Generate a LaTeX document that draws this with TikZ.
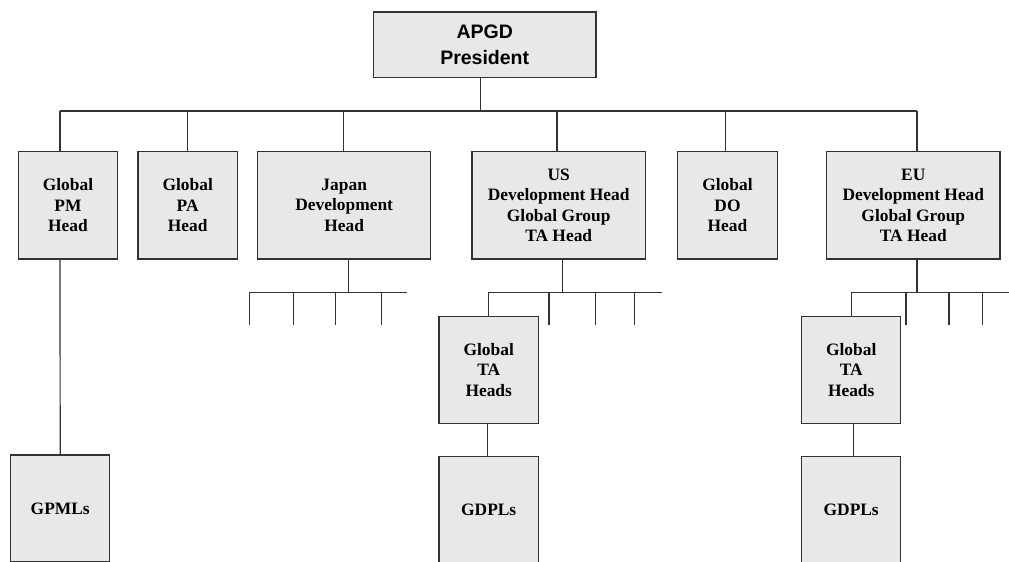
\documentclass[tikz,border=0pt]{standalone}
\usepackage{fontspec}
\setmainfont{Liberation Serif}
\newfontfamily\boxsans{Liberation Sans}
\definecolor{linegray}{HTML}{333333}
\definecolor{boxfill}{HTML}{E8E8E8}
\begin{document}
\begin{tikzpicture}[x=1bp,y=-1bp,
  conn/.style={draw=linegray,line width=1.2bp},
  orgbox/.style={rectangle,draw=linegray,fill=boxfill,line width=1.2bp,inner sep=0pt,align=center,
    font=\bfseries\fontsize{17.4bp}{20.5bp}\selectfont},
  topbox/.style={orgbox,font=\boxsans\bfseries\fontsize{19.5bp}{26bp}\selectfont}]
\clip (0,0) rectangle (1009,562);
\fill[white] (0,0) rectangle (1009,562);

% boxes
\node[topbox,minimum width=222.7bp,minimum height=65.7bp] (top) at (484.7,44.8) {APGD\\President};
\node[orgbox,minimum width=99.4bp,minimum height=107.3bp] (pm) at (68,205.3) {Global\\PM\\Head};
\node[orgbox,minimum width=99.3bp,minimum height=107.3bp] (pa) at (187.7,205.3) {Global\\PA\\Head};
\node[orgbox,minimum width=173bp,minimum height=107.3bp] (jp) at (344.2,205.3) {Japan\\Development\\Head};
\node[orgbox,minimum width=173.3bp,minimum height=107.3bp] (us) at (558.7,205.3) {US\\Development Head\\Global Group\\TA Head};
\node[orgbox,minimum width=99.6bp,minimum height=107.3bp] (do) at (727.5,205.3) {Global\\DO\\Head};
\node[orgbox,minimum width=173.3bp,minimum height=107.3bp] (eu) at (913.3,205.3) {EU\\Development Head\\Global Group\\TA Head};
\node[orgbox,minimum width=99.3bp,minimum height=106.6bp] (usta) at (488.7,370) {Global\\TA\\Heads};
\node[orgbox,minimum width=99bp,minimum height=106.6bp] (euta) at (851.2,370) {Global\\TA\\Heads};
\node[orgbox,minimum width=99.3bp,minimum height=106.6bp] (usgd) at (488.7,510) {GDPLs};
\node[orgbox,minimum width=99bp,minimum height=106.6bp] (eugd) at (851.2,510) {GDPLs};
\node[orgbox,minimum width=99bp,minimum height=107bp] (gpml) at (60.2,508.5) {GPMLs};

% top bus
\coordinate (busL) at (60,111);
\coordinate (busR) at (917,111);
\draw[conn] ([xshift=-4bp]top.south) |- (busL);
\draw[conn] ([xshift=-4bp]top.south) |- (busR);
\draw[conn] ([xshift=-8bp]pm.north) -- ([xshift=-8bp]pm.north |- busL);
\draw[conn] (pa.north) -- (pa.north |- busL);
\draw[conn] ([xshift=-1bp]jp.north) -- ([xshift=-1bp]jp.north |- busL);
\draw[conn] ([xshift=-1.7bp]us.north) -- ([xshift=-1.7bp]us.north |- busL);
\draw[conn] ([xshift=-1.8bp]do.north) -- ([xshift=-1.8bp]do.north |- busL);
\draw[conn] ([xshift=3.7bp]eu.north) -- ([xshift=3.7bp]eu.north |- busL);

% PM to GPMLs
\draw[conn] ([xshift=-8bp]pm.south) -- (gpml.north);

% Japan sub-bus
\coordinate (jpL) at (249.3,292.3);
\coordinate (jpR) at (406.7,292.3);
\draw[conn] ([xshift=4.5bp]jp.south) -- ([xshift=4.5bp]jp.south |- jpL);
\draw[conn] (jpL) -- (jpR);
\foreach \xx in {249.3,293.3,335.7,381.3} \draw[conn] (\xx,292.3) -- (\xx,325.3);

% US sub-bus
\coordinate (usL) at (488.3,292.3);
\coordinate (usR) at (661.7,292.3);
\draw[conn] ([xshift=4bp]us.south) -- ([xshift=4bp]us.south |- usL);
\draw[conn] (usL) -- (usR);
\draw[conn] (usta.north |- usL) -- (usta.north);
\foreach \xx in {549,595.7,634.3} \draw[conn] (\xx,292.3) -- (\xx,325.3);
\draw[conn] ([xshift=-1bp]usta.south) -- ([xshift=-1bp]usgd.north);

% EU sub-bus
\coordinate (euL) at (851,292.3);
\coordinate (euR) at (1009,292.3);
\draw[conn] ([xshift=3.7bp]eu.south) -- ([xshift=3.7bp]eu.south |- euL);
\draw[conn] (euL) -- (euR);
\draw[conn] (euta.north |- euL) -- (euta.north);
\foreach \xx in {906,949,982.7} \draw[conn] (\xx,292.3) -- (\xx,324.7);
\draw[conn] ([xshift=2.5bp]euta.south) -- ([xshift=2.5bp]eugd.north);
\end{tikzpicture}
\end{document}
